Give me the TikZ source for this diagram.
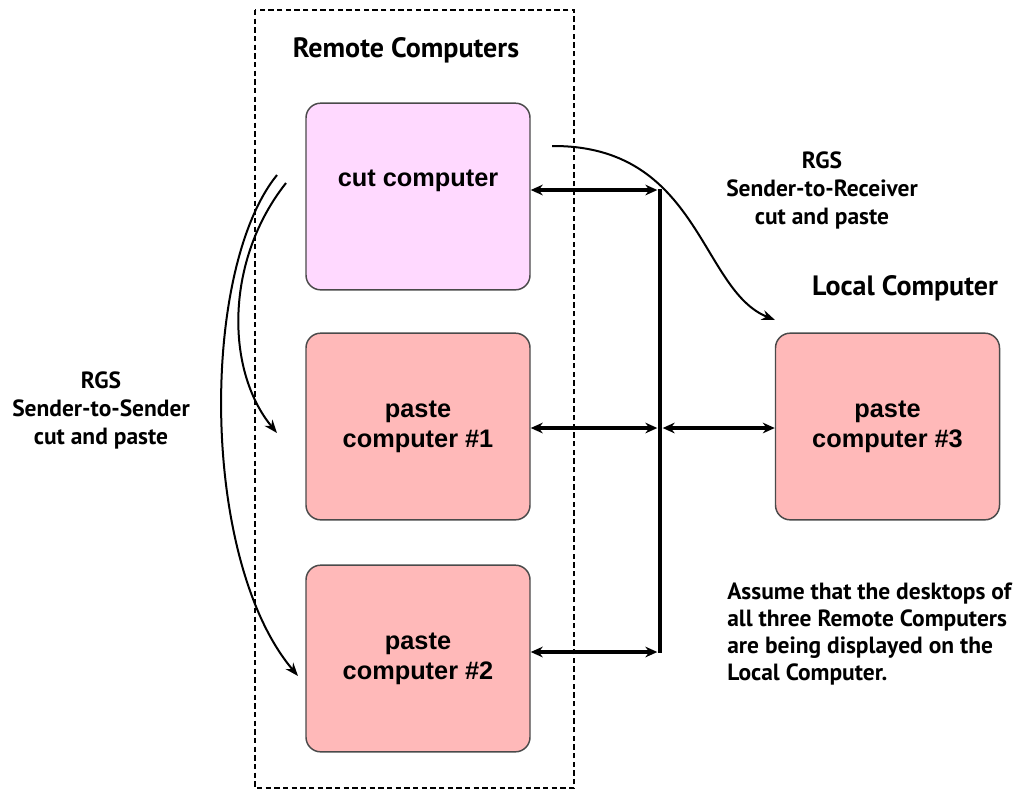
\documentclass[tikz,border=0pt]{standalone}
\usepackage{fontspec}
\setmainfont{Liberation Sans}
\newfontfamily\lblfont{PT Sans}
\usetikzlibrary{arrows.meta}
\definecolor{cutfill}{HTML}{FFD9FF}
\definecolor{pastefill}{HTML}{FFB9B9}
\definecolor{boxline}{HTML}{4A4A4A}
\begin{document}
\begin{tikzpicture}[x=0.75pt,y=-0.75pt,
  pcbox/.style={draw=boxline,line width=1.1pt,rounded corners=11pt,
    minimum width=168pt,minimum height=140pt,align=center,
    font=\fontsize{19}{22.5}\selectfont\bfseries},
  lbl/.style={font=\lblfont\fontsize{17.6}{21}\selectfont\bfseries,align=center,inner sep=0pt},
  head/.style={font=\lblfont\fontsize{21}{24}\selectfont\bfseries,inner sep=0pt},
  dbl/.style={line width=2.6pt,{Stealth[length=9pt,width=8pt]}-{Stealth[length=9pt,width=8pt]}},
  bus/.style={line width=2.6pt},
  curv/.style={line width=1.5pt,-{Stealth[length=10pt,width=7.5pt]}},
  frame/.style={draw,line width=0.8pt,dash pattern=on 4pt off 2.5pt}]
\useasboundingbox (0,0) rectangle (1019,790);
\draw[frame] (255,10) rectangle (574,788);
\node[head] (remote) at (406,50) {Remote Computers};
\node[pcbox,fill=cutfill] (cut) at (418,196.5) {cut computer\\[5pt]};
\node[pcbox,fill=pastefill] (p1) at (418,426.5) {paste\\computer \#1};
\node[pcbox,fill=pastefill] (p2) at (418,658.5) {paste\\computer \#2};
\node[pcbox,fill=pastefill] (p3) at (887.5,426.5) {paste\\computer \#3};
\node[head] (local) at (905,288) {Local Computer};
\node[lbl] (s2r) at (822,190) {RGS\\Sender-to-Receiver\\cut and paste};
\node[lbl] (s2s) at (101,410) {RGS\\Sender-to-Sender\\cut and paste};
\node[lbl,align=left,anchor=west,font=\lblfont\fontsize{17.6}{20.3}\selectfont\bfseries] (note) at (727,634) {Assume that the desktops of\\all three Remote Computers\\are being displayed on the\\Local Computer.};
% bus
\coordinate (btop) at (660,190);
\coordinate (bmid) at (660,428);
\coordinate (bbot) at (660,652);
\draw[bus] ([yshift=1pt]btop) -- ([yshift=-1pt]bbot);
\draw[dbl] (cut.east |- btop) -- ([xshift=-2]btop);
\draw[dbl] (p1.east |- bmid) -- ([xshift=-2]bmid);
\draw[dbl] ([xshift=2]bmid) -- (p3.west |- bmid);
\draw[dbl] (p2.east |- bbot) -- ([xshift=-2]bbot);
% curved arrows
\coordinate (c0) at (552,146);
\coordinate (c1) at (775,320);
\draw[curv] (c0) .. controls (700,145) and (700,290) .. (c1);
\coordinate (l0) at (277,175);
\coordinate (l1) at (298,676);
\draw[curv] (l0) .. controls (200,270) and (200,560) .. (l1);
\coordinate (m0) at (286,183);
\coordinate (m1) at (277,433);
\draw[curv] (m0) .. controls (225,260) and (225,370) .. (m1);
\end{tikzpicture}
\end{document}
